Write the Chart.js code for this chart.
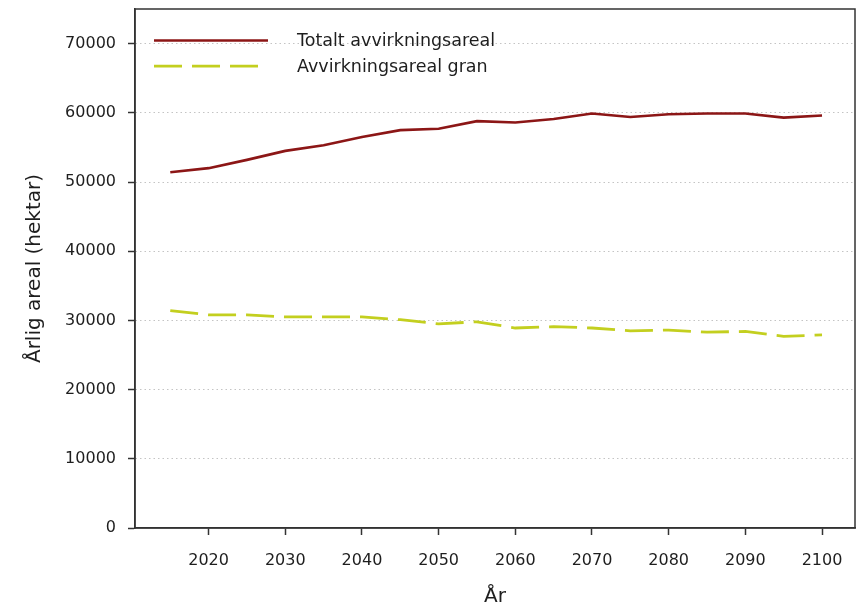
<!DOCTYPE html>
<html>
<head>
<meta charset="utf-8">
<script src="https://cdn.jsdelivr.net/npm/chart.js@4/dist/chart.umd.min.js"></script>
<style>
  html, body { margin: 0; padding: 0; background: #ffffff; }
  #wrap { width: 858px; height: 610px; }
</style>
</head>
<body>
<div id="wrap"><canvas id="c" width="858" height="610"></canvas></div>
<script>
// Årlig avvirkningsareal, 2015–2100
const years = [2015, 2020, 2025, 2030, 2035, 2040, 2045, 2050, 2055, 2060,
               2065, 2070, 2075, 2080, 2085, 2090, 2095, 2100];
const totalArea = [51400, 52000, 53200, 54500, 55300, 56500, 57500, 57700, 58800, 58600,
                   59100, 59900, 59400, 59800, 59900, 59900, 59300, 59600];
const spruceArea = [31400, 30800, 30800, 30500, 30500, 30500, 30100, 29500, 29800, 28900,
                    29100, 28900, 28500, 28600, 28300, 28400, 27700, 27900];
const seriesNames = ['Totalt avvirkningsareal', 'Avvirkningsareal gran'];
const xTickValues = [2020, 2030, 2040, 2050, 2060, 2070, 2080, 2090, 2100];
const yTickValues = [0, 10000, 20000, 30000, 40000, 50000, 60000, 70000];

const FONT = 'DejaVu Sans';
const INK = '#1e1e1e';
const FRAME = '#333333';

const toPoints = (vals) => vals.map((v, i) => ({ x: years[i], y: v }));

// Box around the plotting area
const frame = {
  id: 'frame',
  afterDraw(chart) {
    const { ctx, chartArea: a } = chart;
    ctx.save();
    ctx.strokeStyle = FRAME;
    ctx.lineWidth = 1.5;
    ctx.strokeRect(a.left, a.top, a.right - a.left, a.bottom - a.top);
    ctx.restore();
  }
};

// Legend inside the top-left corner of the plot, drawn from the dataset styles
const insideLegend = {
  id: 'insideLegend',
  afterDatasetsDraw(chart) {
    const { ctx, chartArea: a } = chart;
    ctx.save();
    chart.data.datasets.forEach((ds, i) => {
      const y = a.top + 31.5 + i * 25.7;
      const dash = ds.borderDash || [];
      // a dashed sample shows three whole dashes, a solid one a fixed length
      const len = dash.length ? 3 * dash[0] + 2 * dash[1] : 114;
      ctx.strokeStyle = ds.borderColor;
      ctx.lineWidth = ds.borderWidth;
      ctx.setLineDash(dash);
      ctx.beginPath();
      ctx.moveTo(a.left + 19, y);
      ctx.lineTo(a.left + 19 + len, y);
      ctx.stroke();
      ctx.setLineDash([]);
      ctx.fillStyle = INK;
      ctx.font = '17.5px "' + FONT + '"';
      ctx.textBaseline = 'alphabetic';
      ctx.textAlign = 'left';
      ctx.fillText(ds.label, a.left + 162, y + 5.8);
    });
    ctx.restore();
  }
};

new Chart(document.getElementById('c'), {
  type: 'line',
  data: {
    datasets: [
      {
        label: seriesNames[0],
        data: toPoints(totalArea),
        borderColor: '#8c1616',
        borderWidth: 2.6,
        pointRadius: 0,
        tension: 0
      },
      {
        label: seriesNames[1],
        data: toPoints(spruceArea),
        borderColor: '#c3cf1f',
        borderWidth: 2.8,
        borderDash: [28, 10],
        pointRadius: 0,
        tension: 0
      }
    ]
  },
  options: {
    responsive: false,
    animation: false,
    devicePixelRatio: 1,
    layout: { padding: { top: 9, right: 3, left: 0, bottom: 0 } },
    plugins: {
      legend: { display: false },
      tooltip: { enabled: false }
    },
    scales: {
      x: {
        type: 'linear',
        min: 2010.4,
        max: 2104.3,
        afterBuildTicks: (scale) => { scale.ticks = xTickValues.map(v => ({ value: v })); },
        afterFit: (scale) => { scale.height = 82; scale.paddingLeft = 0; scale.paddingRight = 0; },
        grid: { drawOnChartArea: false, tickLength: 7, tickColor: FRAME, tickWidth: 1.5 },
        border: { display: true, color: FRAME, width: 1.5 },
        ticks: {
          font: { family: FONT, size: 16 },
          color: INK,
          padding: 16,
          maxRotation: 0,
          autoSkip: false,
          callback: (v) => String(v)
        },
        title: {
          display: true,
          text: 'År',
          font: { family: FONT, size: 20 },
          color: INK,
          padding: { top: 0, bottom: 1 }
        }
      },
      y: {
        min: 0,
        max: 75000,
        afterBuildTicks: (scale) => { scale.ticks = yTickValues.map(v => ({ value: v })); },
        afterFit: (scale) => { scale.width = 135; scale.paddingTop = 0; scale.paddingBottom = 0; },
        grid: {
          color: (c) => (c.tick && c.tick.value === 0 ? 'rgba(0,0,0,0)' : '#c4c4c4'),
          lineWidth: 1,
          tickLength: 7,
          tickColor: FRAME,
          tickWidth: 1.5,
          tickBorderDash: []
        },
        border: { display: true, color: FRAME, width: 1.5, dash: [1.5, 3] },
        ticks: {
          font: { family: FONT, size: 16 },
          color: INK,
          padding: 12,
          callback: (v) => String(v)
        },
        title: {
          display: true,
          text: 'Årlig areal (hektar)',
          font: { family: FONT, size: 20 },
          color: INK,
          padding: { top: 23, bottom: 0 }
        }
      }
    }
  },
  plugins: [frame, insideLegend]
});
</script>
</body>
</html>
